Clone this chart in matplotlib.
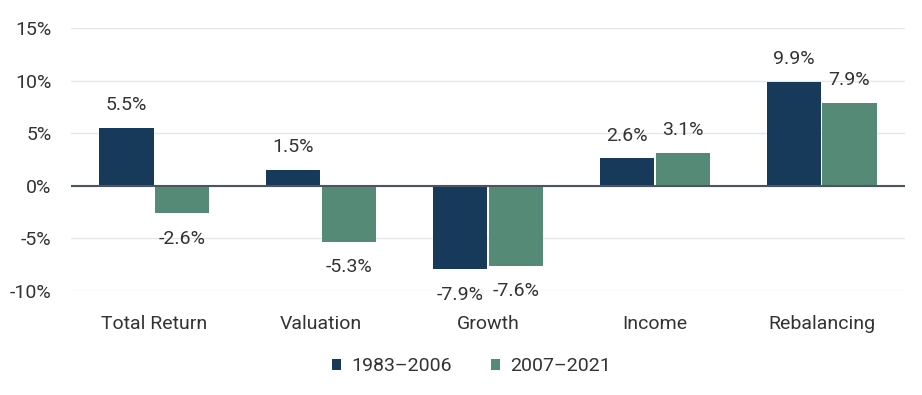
import matplotlib.pyplot as plt
import numpy as np

plt.rcParams['font.family'] = ['Roboto', 'DejaVu Sans']

categories = ['Total Return', 'Valuation', 'Growth', 'Income', 'Rebalancing']
period_1 = [5.5, 1.5, -7.9, 2.6, 9.9]
period_2 = [-2.6, -5.3, -7.6, 3.1, 7.9]
series_labels = ['1983\u20132006', '2007\u20132021']
yticks = [-10, -5, 0, 5, 10, 15]

navy = '#173a5a'
green = '#558a76'
text_col = '#333333'
fs = 14

fig = plt.figure(figsize=(9.22, 3.95), dpi=100)
ax = fig.add_axes([71 / 922, 1 - 291 / 395, (905 - 71) / 922, (291 - 28) / 395])

x = np.arange(len(categories))
w = 0.325
b1 = ax.bar(x - w / 2 - 0.005, period_1, w, color=navy, label=series_labels[0], zorder=3)
b2 = ax.bar(x + w / 2 + 0.005, period_2, w, color=green, label=series_labels[1], zorder=3)

for bars, vals in [(b1, period_1), (b2, period_2)]:
    for rect, v in zip(bars, vals):
        cx = rect.get_x() + rect.get_width() / 2
        if v >= 0:
            ax.annotate(f'{v:.1f}%', (cx, v), xytext=(0, 10), textcoords='offset points',
                        ha='center', va='bottom', fontsize=fs, color=text_col)
        else:
            ax.annotate(f'{v:.1f}%', (cx, v), xytext=(0, -12), textcoords='offset points',
                        ha='center', va='top', fontsize=fs, color=text_col)

ax.set_xlim(-0.5, 4.5)
ax.set_ylim(-10, 15)
ax.set_yticks(yticks)
ax.set_yticklabels([f'{t}%' for t in yticks])
ax.set_xticks(x)
ax.set_xticklabels(categories)
ax.tick_params(length=0, labelsize=fs, labelcolor=text_col)
ax.tick_params(axis='x', pad=17)
ax.tick_params(axis='y', pad=14)
ax.grid(axis='y', color='#e3e7ec', linewidth=1, zorder=0)
ax.axhline(0, color='#4a5560', linewidth=1.5, zorder=4)
for s in ax.spines.values():
    s.set_visible(False)

ax.legend(loc='center', bbox_to_anchor=(0.48, -0.285), ncol=2, frameon=False,
          fontsize=fs, handlelength=0.5, handleheight=0.5, columnspacing=2.0,
          handletextpad=0.5, labelcolor=text_col)

fig.savefig('out.png', dpi=100)
